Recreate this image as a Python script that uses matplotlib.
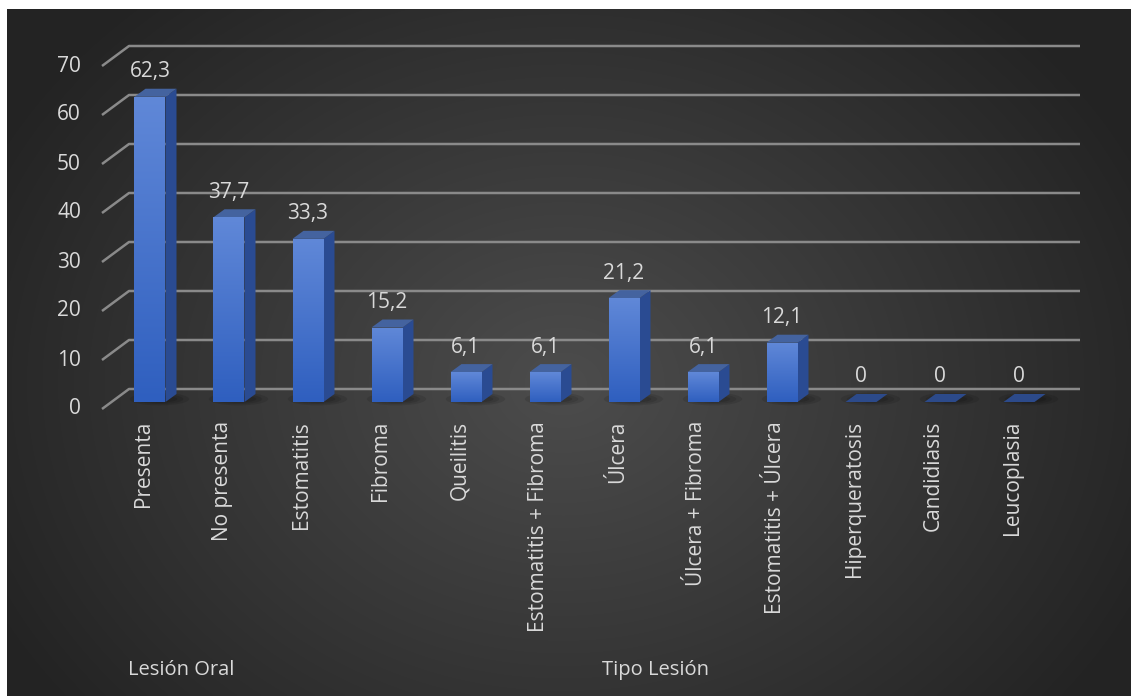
import matplotlib
matplotlib.use("Agg")
import matplotlib.pyplot as plt
import numpy as np
from matplotlib.patches import Polygon, Ellipse

categories = ["Presenta", "No presenta", "Estomatitis", "Fibroma", "Queilitis",
              "Estomatitis + Fibroma", "Úlcera", "Úlcera + Fibroma",
              "Estomatitis + Úlcera", "Hiperqueratosis", "Candidiasis", "Leucoplasia"]
values = [62.3, 37.7, 33.3, 15.2, 6.1, 6.1, 21.2, 6.1, 12.1, 0, 0, 0]
value_labels = ["62,3", "37,7", "33,3", "15,2", "6,1", "6,1", "21,2", "6,1", "12,1", "0", "0", "0"]
yticks = [0, 10, 20, 30, 40, 50, 60, 70]
groups = ["Lesión Oral", "Tipo Lesión"]

plt.rcParams['font.family'] = ['Open Sans', 'DejaVu Sans']
W, H = 1131, 696
fig = plt.figure(figsize=(W / 100, H / 100), dpi=100, facecolor="white")
ax = fig.add_axes([0, 0, 1, 1])
ax.set_axis_off()

# pixel <-> data: category i at px 150 + 79 i, value v at py 402 - 4.9 v
SX, SY = 79.0, 4.9
def px(x):
    return (x - 150) / SX
def py(y):
    return (402 - y) / SY

ax.set_xlim(px(0), px(W))
ax.set_ylim(py(H), py(0))

# radial gradient background
gx, gy = np.meshgrid(np.linspace(0, W, 400), np.linspace(0, H, 250))
r = np.sqrt(((gx - 560) / 640) ** 2 + ((gy - 380) / 520) ** 2)
shade = np.clip(0.30 - 0.16 * r, 0.14, 0.30)
img = np.dstack([shade, shade, shade])
ax.imshow(img, extent=(px(7), px(W), py(H), py(9)), aspect="auto", zorder=0,
          interpolation="bilinear")

grid_c = "#8a8a8a"
text_c = "#d9d9d9"
fdy = -7 / SY      # front edge relative to bar plane
bdy = 13 / SY      # back wall relative to bar plane
x_front = px(102)
x_back = px(129)
x_end = px(1080)

for t in yticks:
    ax.plot([x_front, x_back, x_end], [t + fdy, t + bdy, t + bdy],
            color=grid_c, lw=1.8, zorder=1, solid_capstyle="butt")
    ax.text(px(81), t + fdy, str(t), ha="right", va="center", color=text_c,
            fontsize=15, zorder=5)

bw = 31 / SX
ddx = 11 / SX
ddy = 8 / SY

# shadows
for i in range(len(values)):
    for k, a in enumerate([0.10, 0.10, 0.12]):
        ax.add_patch(Ellipse((i + 0.12, 0.6), width=(0.75 - 0.15 * k),
                             height=(2.6 - 0.6 * k), color="black", alpha=a,
                             lw=0, zorder=2))

grad = np.linspace(1, 0, 100).reshape(-1, 1)
top_col = np.array([0x60, 0x88, 0xd8]) / 255
bot_col = np.array([0x2f, 0x5f, 0xbf]) / 255
grad_img = grad[..., None] * top_col + (1 - grad[..., None]) * bot_col

bars = ax.bar(range(len(values)), values, width=bw, color="#3a6acb",
              lw=0, zorder=3)
for i, (b, v) in enumerate(zip(bars, values)):
    x0 = i - bw / 2
    x1 = i + bw / 2
    if v > 0:
        im = ax.imshow(grad_img, extent=(x0, x1, 0, v), aspect="auto",
                       zorder=3.1, interpolation="bilinear")
        im.set_clip_path(b)
        side = Polygon([(x1, 0), (x1 + ddx, ddy), (x1 + ddx, v + ddy), (x1, v)],
                       closed=True, color="#2a4b92", lw=0, zorder=3)
        ax.add_patch(side)
        top = Polygon([(x0, v), (x1, v), (x1 + ddx, v + ddy), (x0 + ddx, v + ddy)],
                      closed=True, color="#44639f", lw=0, zorder=3)
        ax.add_patch(top)
    else:
        top = Polygon([(x0, 0), (x1, 0), (x1 + ddx, ddy), (x0 + ddx, ddy)],
                      closed=True, color="#2c4a8a", lw=0, zorder=3)
        ax.add_patch(top)
    ax.text(i, v + 25 / SY, value_labels[i], ha="center", va="center",
            color=text_c, fontsize=15, zorder=5)
    ax.text(i - 6.5 / SX, py(421), categories[i], rotation=90, ha="center",
            va="top", color=text_c, fontsize=15, zorder=5)

ax.text(px(128), py(670), groups[0], ha="left", va="center", color=text_c,
        fontsize=14.5, zorder=5)
ax.text(px(655), py(670), groups[1], ha="center", va="center", color=text_c,
        fontsize=14.5, zorder=5)

fig.savefig("out.png", dpi=100, facecolor="white")
